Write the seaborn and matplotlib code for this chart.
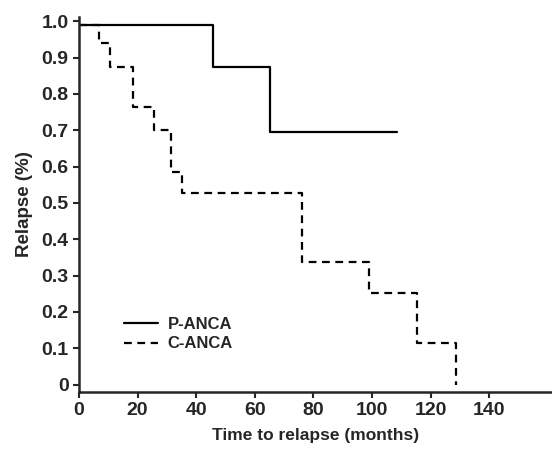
import pandas as pd
import numpy as np
import matplotlib
matplotlib.use("Agg")
import matplotlib.pyplot as plt
import seaborn as sns

# --- Data ---
p_time = [0, 45.7, 65.2, 108.5]
p_surv = [0.99, 0.875, 0.695, 0.695]

c_time = [0, 6.8, 10.6, 18.4, 25.7, 31.3, 35.1, 76.1, 99.0, 115.4, 128.7]
c_surv = [0.99, 0.94, 0.875, 0.763, 0.70, 0.585, 0.527, 0.338, 0.253, 0.115, 0.0]

x_ticks = [0, 20, 40, 60, 80, 100, 120, 140]
y_ticks = [0, 0.1, 0.2, 0.3, 0.4, 0.5, 0.6, 0.7, 0.8, 0.9, 1.0]
y_labels = ["0", "0.1", "0.2", "0.3", "0.4", "0.5", "0.6", "0.7", "0.8", "0.9", "1.0"]

df = pd.concat([
    pd.DataFrame({"time": p_time, "surv": p_surv, "group": "P-ANCA"}),
    pd.DataFrame({"time": c_time, "surv": c_surv, "group": "C-ANCA"}),
])

sns.set_style("ticks")
plt.rcParams["font.family"] = ["Liberation Sans", "DejaVu Sans"]
plt.rcParams["font.weight"] = "bold"

fig = plt.figure(figsize=(5.52, 4.53), dpi=100)
ax = fig.add_axes([0.143, 0.135, 0.857, 0.827])

sns.lineplot(data=df, x="time", y="surv", hue="group", style="group",
             palette={"P-ANCA": "black", "C-ANCA": "black"},
             dashes={"P-ANCA": "", "C-ANCA": (3.5, 2.5)},
             drawstyle="steps-post", linewidth=1.6, ax=ax)

ax.set_xlim(0, 161.4)
ax.set_ylim(-0.02, 1.011)
ax.set_xticks(x_ticks)
ax.set_yticks(y_ticks)
ax.set_yticklabels(y_labels)
ax.tick_params(labelsize=14, width=1.5, length=4, direction="out")
for lbl in ax.get_xticklabels() + ax.get_yticklabels():
    lbl.set_fontweight("bold")

for s in ["top", "right"]:
    ax.spines[s].set_visible(False)
for s in ["left", "bottom"]:
    ax.spines[s].set_linewidth(1.8)

ax.set_xlabel("Time to relapse (months)", fontsize=12.5, fontweight="bold", labelpad=6)
ax.set_ylabel("Relapse (%)", fontsize=13.5, fontweight="bold", labelpad=6)

leg = ax.legend(loc="lower left", bbox_to_anchor=(0.082, 0.09), frameon=False,
                fontsize=12, handlelength=2.0, handletextpad=0.6, labelspacing=0.25,
                borderaxespad=0)
for t in leg.get_texts():
    t.set_fontweight("bold")

fig.savefig("out.png", dpi=100)
